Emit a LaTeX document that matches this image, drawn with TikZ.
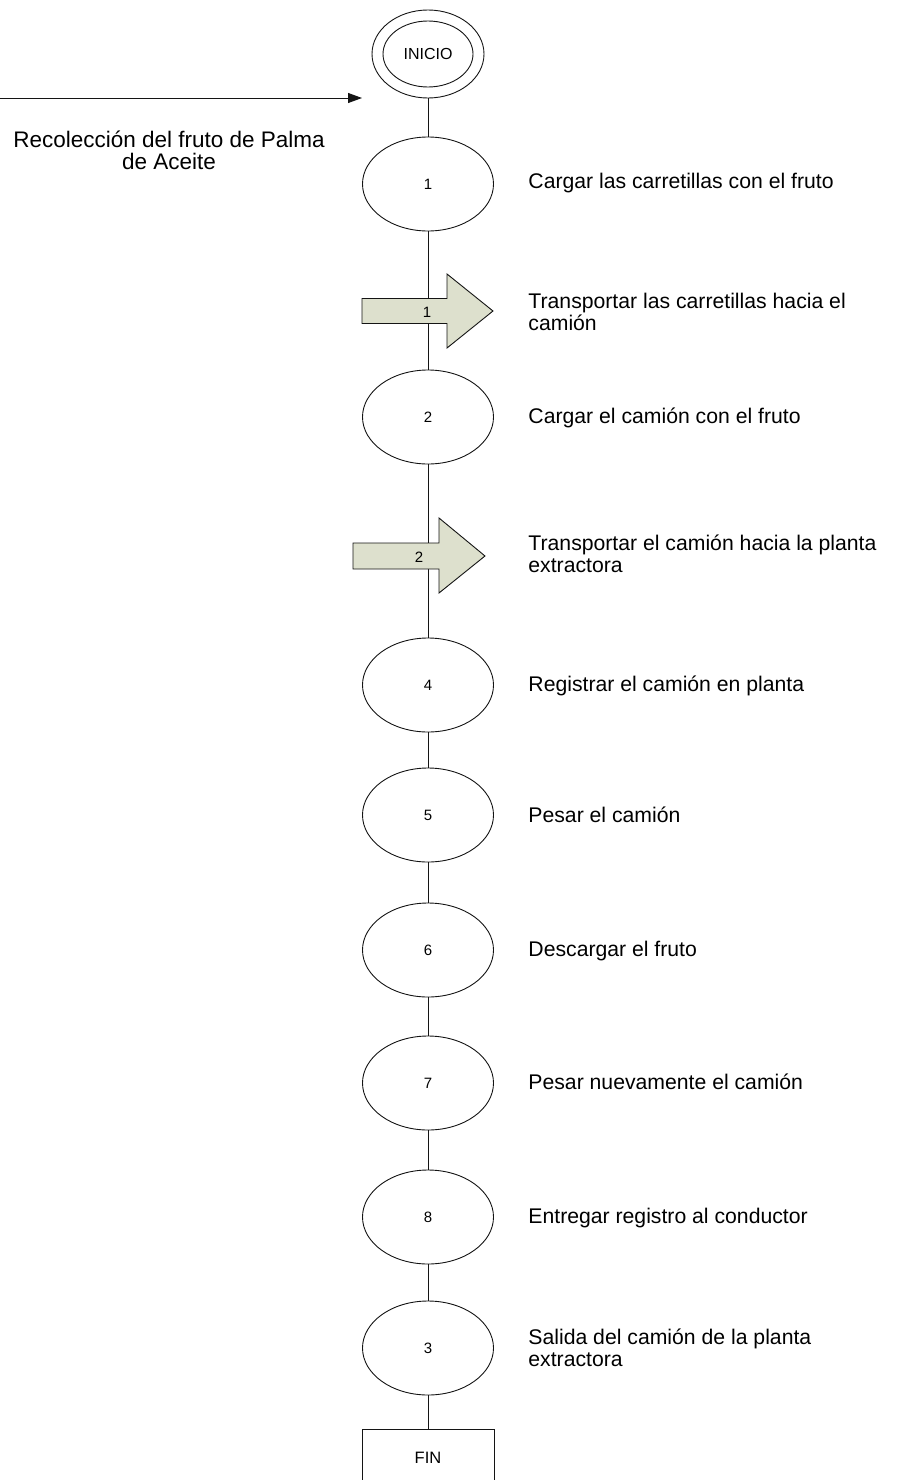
\documentclass[tikz,border=0pt]{standalone}
\usepackage{fontspec}
\setmainfont{Liberation Sans}
\usetikzlibrary{shapes.geometric,arrows.meta}

\definecolor{movefill}{RGB}{221,224,205}
\definecolor{ink}{RGB}{20,20,20}

\begin{document}
\begin{tikzpicture}[x=1pt,y=-1pt,
  line width=0.9pt, draw=ink,
  opnode/.style={ellipse,draw=ink,minimum width=131pt,minimum height=94pt,
    inner sep=0pt,font=\fontsize{15}{17}\selectfont},
  startnode/.style={ellipse,draw=ink,minimum width=112pt,minimum height=88pt,
    inner sep=0pt,font=\fontsize{16}{18}\selectfont},
  endnode/.style={rectangle,draw=ink,minimum width=132pt,minimum height=56pt,
    inner sep=0pt,anchor=north,font=\fontsize{16.5}{18}\selectfont},
  moveshape/.style={draw=ink,fill=movefill,line join=miter},
  movelabel/.style={inner sep=0pt,font=\fontsize{15}{17}\selectfont},
  desc/.style={anchor=base west,align=left,inner sep=0pt,
    font=\fontsize{21.2}{22}\selectfont},
  flow/.style={draw=ink},
  feed/.style={draw=ink,-{Triangle[length=14pt,width=10pt]}}
]
\useasboundingbox (0,0) rectangle (908,1480);

% start symbol
\node[startnode] (inicio) at (428,54) {INICIO};
\draw (inicio.center) ellipse [x radius=45pt, y radius=33pt];

% operations
\node[opnode] (op1) at (428,184) {1};
\node[opnode] (op2) at (428,417) {2};
\node[opnode] (op4) at (428,685) {4};
\node[opnode] (op5) at (428,815) {5};
\node[opnode] (op6) at (428,950) {6};
\node[opnode] (op7) at (428,1083) {7};
\node[opnode] (op8) at (428,1217) {8};
\node[opnode] (op3) at (428,1348) {3};

% end symbol
\node[endnode] (fin) at (428,1429) {FIN};

% vertical flow line
\draw[flow] (inicio) -- (op1);
\draw[flow] (op1) -- (op2);
\draw[flow] (op2) -- (op4);
\draw[flow] (op4) -- (op5);
\draw[flow] (op5) -- (op6);
\draw[flow] (op6) -- (op7);
\draw[flow] (op7) -- (op8);
\draw[flow] (op8) -- (op3);
\draw[flow] (op3) -- (fin);

% transport arrows drawn over the flow line
\draw[moveshape] (362,298.5) -- (447,298.5) -- (447,274) -- (493,311)
  -- (447,348) -- (447,323.5) -- (362,323.5) -- cycle;
\node[movelabel] (mv1) at (427,312) {1};
\draw[moveshape] (353,543) -- (439,543) -- (439,518) -- (485,556)
  -- (439,593) -- (439,569) -- (353,569) -- cycle;
\node[movelabel] (mv2) at (419,557) {2};

% incoming material
\coordinate (feedstart) at (0,98);
\coordinate (feedend) at (362,98);
\draw[feed] (feedstart) -- (feedend);
\node[anchor=base,align=center,inner sep=0pt,font=\fontsize{22.5}{22}\selectfont]
  (feedtext) at (169,169) {Recolección del fruto de Palma\\de Aceite};

% step descriptions (two-line texts are placed by their last baseline)
\node[desc] (d1) at (528,188) {Cargar las carretillas con el fruto};
\node[desc] (d2) at (528,330) {Transportar las carretillas hacia el\\camión};
\node[desc] (d3) at (528,423) {Cargar el camión con el fruto};
\node[desc] (d4) at (528,572) {Transportar el camión hacia la planta\\extractora};
\node[desc] (d5) at (528,691) {Registrar el camión en planta};
\node[desc] (d6) at (528,822) {Pesar el camión};
\node[desc] (d7) at (528,956) {Descargar el fruto};
\node[desc] (d8) at (528,1089) {Pesar nuevamente el camión};
\node[desc] (d9) at (528,1223) {Entregar registro al conductor};
\node[desc] (d10) at (528,1366) {Salida del camión de la planta\\extractora};
\end{tikzpicture}
\end{document}
